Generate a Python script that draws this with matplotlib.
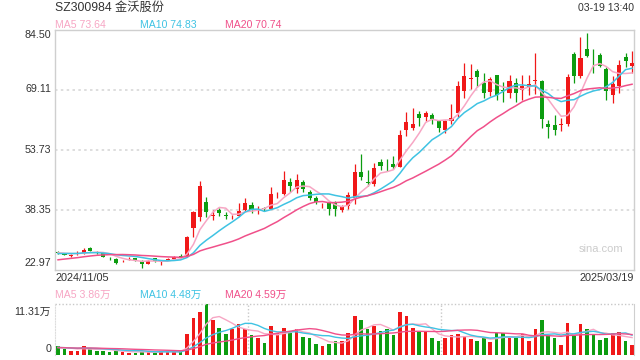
import matplotlib
matplotlib.use("Agg")
import matplotlib.pyplot as plt
import pandas as pd

plt.rcParams['font.family'] = ['Liberation Sans', 'Noto Sans CJK SC']

title = "SZ300984 金沃股份"
stamp = "03-19 13:40"
start_date = "2024/11/05"
end_date = "2025/03/19"
price_labels = ["84.50", "69.11", "53.73", "38.35", "22.97"]
price_min, price_max = 22.97, 84.50
price_grid = [38.35, 53.73, 69.11]
vol_max = 113100  # 11.31万
ma_names = ["MA5 73.64", "MA10 74.83", "MA20 70.74"]
vol_ma_names = ["MA5 3.86万", "MA10 4.48万", "MA20 4.59万"]

opens = [27.4, 27.1, 26.5, 26.9, 27.3, 28.4, 27.5, 27.3, 25.7, 25.6,
         25.1, 25.4, 25.8, 25.2, 24.5, 25.8, 25.1, 25.4, 25.7, 26.5,
         26.4, 33.5, 36.4, 40.2, 36.8, 38.2, 36.9, 36.4, 36.8, 38.2,
         39.5, 38.1, 38.7, 38.6, 42.0, 42.3, 45.4, 43.5, 45.4, 42.8,
         41.3, 39.2, 39.9, 39.9, 38.3, 39.2, 41.2, 48.0, 45.4, 44.9,
         50.5, 49.8, 50.0, 49.3, 58.8, 59.3, 62.8, 62.0, 62.6, 61.1,
         58.8, 61.0, 63.0, 68.8, 71.9, 73.8, 70.7, 68.6, 72.8, 68.9,
         68.2, 70.7, 69.0, 69.7, 71.3, 71.3, 60.3, 59.9, 60.0, 60.3,
         78.2, 72.6, 79.6, 76.4, 77.9, 74.3, 67.7, 70.0, 77.4, 75.1]
closes = [27.1, 26.8, 26.7, 27.2, 28.0, 27.8, 27.4, 26.3, 25.6, 24.7,
          25.2, 25.5, 25.4, 24.5, 25.2, 25.1, 25.2, 25.6, 26.3, 26.3,
          31.3, 37.7, 44.4, 37.8, 37.0, 37.5, 36.8, 36.5, 38.0, 40.0,
          38.3, 38.2, 38.5, 42.3, 42.1, 45.9, 44.4, 45.9, 43.5, 41.4,
          40.2, 39.3, 38.4, 38.4, 39.1, 42.1, 48.0, 46.7, 45.2, 49.0,
          49.6, 49.7, 49.2, 57.5, 60.9, 60.3, 61.7, 63.0, 61.5, 59.2,
          61.1, 61.8, 70.0, 72.6, 72.0, 72.2, 68.3, 71.7, 67.7, 68.8,
          71.2, 68.3, 70.0, 70.5, 71.4, 61.5, 59.6, 58.7, 60.1, 72.4,
          72.6, 77.1, 77.7, 76.3, 75.1, 68.8, 70.5, 75.4, 76.3, 75.8]
highs = [27.7, 27.3, 27.0, 27.6, 28.4, 28.8, 27.8, 27.5, 26.2, 25.8,
         25.3, 26.3, 26.0, 25.4, 25.3, 26.0, 25.5, 26.0, 26.5, 27.0,
         31.5, 37.9, 45.7, 41.6, 38.3, 38.7, 37.7, 37.0, 39.9, 41.2,
         40.2, 39.2, 39.0, 44.0, 42.8, 48.2, 46.5, 47.5, 46.0, 43.4,
         41.9, 40.1, 40.5, 40.5, 39.6, 42.8, 50.0, 52.6, 48.5, 50.3,
         51.2, 51.3, 52.1, 58.7, 63.4, 64.3, 63.5, 63.5, 63.1, 61.4,
         61.3, 65.4, 71.4, 75.8, 75.6, 74.3, 73.4, 72.4, 72.9, 71.1,
         72.8, 72.0, 72.8, 72.8, 78.6, 71.6, 61.3, 62.6, 61.7, 73.1,
         78.8, 82.5, 83.5, 79.6, 78.4, 75.0, 72.6, 76.8, 78.4, 79.1]
lows = [26.9, 26.6, 26.2, 26.8, 27.0, 27.6, 27.0, 26.2, 25.3, 24.5,
        25.0, 25.3, 25.2, 23.3, 24.4, 24.9, 24.2, 25.3, 25.6, 26.1,
        26.3, 31.4, 35.5, 36.5, 35.6, 36.8, 35.8, 36.0, 36.6, 38.0,
        37.5, 37.3, 38.0, 38.4, 41.4, 42.0, 42.9, 42.5, 42.8, 40.8,
        39.8, 38.8, 36.9, 36.6, 37.6, 38.5, 39.7, 45.9, 44.5, 44.5,
        48.6, 48.2, 48.8, 49.2, 57.1, 58.8, 59.7, 61.0, 60.2, 58.3,
        57.9, 60.4, 62.0, 66.9, 69.3, 69.7, 66.9, 67.5, 66.4, 66.0,
        66.9, 66.0, 66.3, 67.7, 67.9, 59.2, 56.6, 57.5, 58.6, 59.7,
        70.9, 72.0, 77.5, 73.3, 75.0, 66.4, 65.7, 68.2, 74.9, 73.4]
volumes = [20000, 12700, 9000, 9000, 20000, 15000, 9700, 9000, 7400, 9700,
           7400, 5200, 5200, 7400, 6700, 5200, 9700, 7400, 7400, 7400,
           46800, 82500, 95900, 113100, 78000, 59500, 46800, 57300, 69100, 57300,
           44600, 38600, 27400, 64700, 49800, 59500, 49800, 57300, 40800, 38600,
           24500, 20000, 24500, 31900, 31900, 49800, 87000, 78000, 57300, 64700,
           53500, 57300, 44600, 95900, 87000, 60900, 52000, 52000, 38600, 31900,
           38600, 44600, 46800, 42400, 35700, 31900, 37200, 29700, 48400, 48400,
           38600, 38600, 46200, 31900, 58000, 78000, 44600, 38600, 22300, 72000,
           43000, 69100, 58000, 44600, 33500, 38600, 49800, 52000, 31900, 22300]

# closes / volumes before the first shown day, only to start the moving averages
prev_closes = [23.0, 23.2, 23.5, 23.4, 23.8, 24.0, 24.3, 24.1, 24.5, 24.8,
               26.5, 26.8, 27.0, 26.6, 27.2, 27.5, 27.1, 27.3, 27.4]
prev_volumes = [14000, 16500, 15200, 17800, 13600, 15000, 18200, 16400, 14800, 15500,
                17000, 16200, 14900, 15800, 17500, 16000, 15300, 18000, 16800]

RED = '#f01818'
GREEN = '#0c9c10'
MA_COLORS = ['#f7a6c4', '#3fc3e3', '#f0508a']
GRID = '#d8d8d8'
TEXT = '#333333'

n = len(closes)
xs = list(range(n))
colors = [RED if c >= o else GREEN for o, c in zip(opens, closes)]


def moving(prev, values, window):
    s = pd.Series(prev + values).rolling(window).mean()
    return s.iloc[len(prev):].tolist()


fig = plt.figure(figsize=(6.4, 3.6), dpi=100)
W, H = 640, 360


def fx(px):
    return px / W


def fy(px):
    return 1 - px / H


ax = fig.add_axes([fx(55), fy(269.5), fx(634) - fx(55), fy(29.5) - fy(269.5)])
vax = fig.add_axes([fx(55), fy(355), fx(634) - fx(55), fy(304.3) - fy(355)])

# price panel
for y in price_grid:
    ax.axhline(y, color=GRID, lw=1.2, ls=(0, (1.5, 2)), zorder=0)
for i in xs:
    ax.vlines(i, lows[i], highs[i], color=colors[i], lw=0.9, zorder=2)
    body = max(abs(closes[i] - opens[i]), 0.15)
    ax.bar(i, body, bottom=min(opens[i], closes[i]), width=0.64,
           color=colors[i], lw=0, zorder=3)
for w, c in zip([5, 10, 20], MA_COLORS):
    ax.plot(xs, moving(prev_closes, closes, w), color=c, lw=1.1, zorder=4)

ax.set_xlim(-0.47, 89.3)
ax.set_ylim(price_min, price_max)
ax.set_xticks([])
ax.set_yticks([])
for s in ax.spines.values():
    s.set_color('#cfcfcf')
    s.set_linewidth(1)

# volume panel
vax.bar(xs, volumes, width=0.56, color=colors, lw=0, zorder=2)
for w, c in zip([5, 10, 20], MA_COLORS):
    vax.plot(xs, moving(prev_volumes, volumes, w), color=c, lw=1.0, zorder=3)
vax.axhline(vol_max, color='#c8c8c8', lw=1, ls=(0, (1, 1.5)), clip_on=False)
for xv in [(89.3 + 0.47) / 3 - 0.47, 2 * (89.3 + 0.47) / 3 - 0.47]:
    vax.axvline(xv, color='#c8c8c8', lw=1, ls=(0, (1, 1.5)), zorder=0)
vax.set_xlim(-0.47, 89.3)
vax.set_ylim(0, vol_max)
vax.set_xticks([])
vax.set_yticks([])
for k in ['top', 'bottom']:
    vax.spines[k].set_visible(False)
vax.spines['left'].set_color('#dddddd')
vax.spines['left'].set_linestyle((0, (1, 1.5)))
vax.spines['right'].set_color('#cfcfcf')

# texts
fig.text(fx(55), fy(8), title, fontsize=8.8, color=TEXT, va='center', ha='left')
fig.text(fx(634), fy(8), stamp, fontsize=7.6, color=TEXT, va='center', ha='right')
for name, c, xp in zip(ma_names, MA_COLORS, [55, 140, 225]):
    fig.text(fx(xp), fy(24.5), name, fontsize=7.6, color=c, va='center')
for name, c, xp in zip(vol_ma_names, MA_COLORS, [55, 140, 225]):
    fig.text(fx(xp), fy(295), name, fontsize=7.6, color=c, va='center')

label_y = [35.3, 89.5, 149.5, 209.5, 262.5]
for lab, yp in zip(price_labels, label_y):
    fig.text(fx(51), fy(yp), lab, fontsize=7.7, color=TEXT, va='center', ha='right')
fig.text(fx(51), fy(311.5), "11.31万", fontsize=7.7, color=TEXT, va='center', ha='right')
fig.text(fx(51), fy(348.5), "0", fontsize=7.7, color=TEXT, va='center', ha='right')

fig.text(fx(55), fy(278), start_date, fontsize=7.8, color=TEXT, va='center', ha='left')
fig.text(fx(634), fy(278), end_date, fontsize=7.8, color=TEXT, va='center', ha='right')
fig.text(fx(623), fy(249), "sina.com", fontsize=8, color='#cccccc', va='center', ha='right')

fig.savefig("out.png", dpi=100)
